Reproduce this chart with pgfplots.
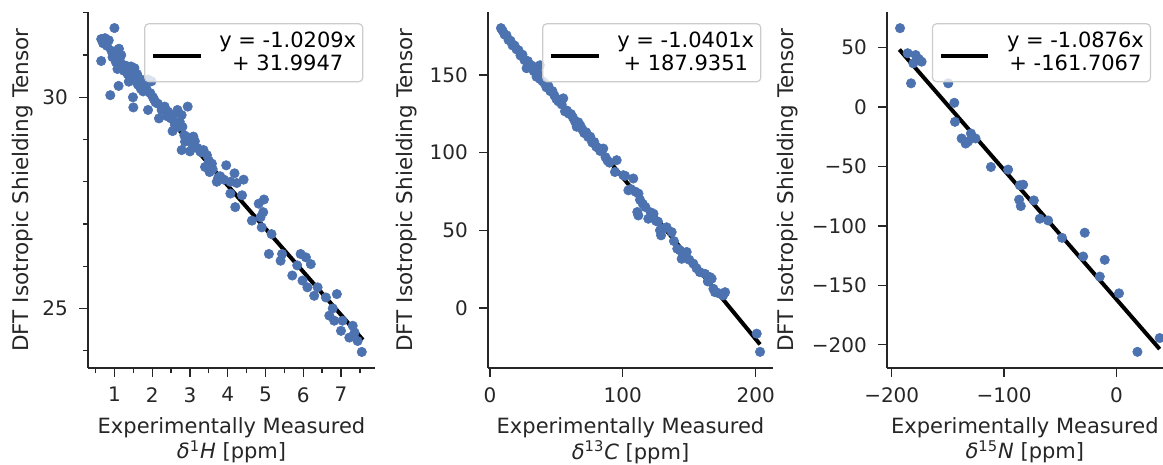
\documentclass[border=0pt]{standalone}
\usepackage{pgfplots}
\pgfplotsset{compat=1.18}
\usepackage{fontspec}
\setmainfont{DejaVu Sans}

\definecolor{dots}{HTML}{4C72B0}
\definecolor{spine}{HTML}{262626}

\pgfplotsset{
  panel/.style={
    scale only axis, height=178pt, anchor=south west,
    axis x line*=bottom, axis y line*=left,
    axis line style={spine, line width=0.65pt},
    every tick/.style={spine, line width=0.65pt},
    tick align=outside,
    major tick length=4.5pt, minor tick length=2.6pt,
    /pgf/number format/assume math mode=true,
    tick label style={font=\fontsize{10}{12}\selectfont, text=spine, inner sep=0pt},
    xticklabel style={anchor=north},
    yticklabel style={anchor=east},
    xticklabel shift=5pt, yticklabel shift=5.35pt,
    xlabel style={at={(axis description cs:0.5,0)}, anchor=base, yshift=-32.65pt,
      font=\fontsize{10.5}{11.7}\selectfont, text=spine},
    ylabel style={anchor=center, rotate=0, font=\fontsize{10.75}{12}\selectfont, text=spine},
    ylabel={DFT Isotropic Shielding Tensor},
    legend style={at={(1,1)}, anchor=north east, xshift=-5.8pt, yshift=-5.6pt,
      draw=black!20, line width=0.6pt, rounded corners=2pt, fill=white, fill opacity=0.8,
      text opacity=1, inner xsep=3.3pt, inner ysep=4.3pt, column sep=8.3pt,
      nodes={inner sep=0pt}, font=\fontsize{10.5}{10.85}\selectfont},
    legend image code/.code={
      \draw[line width=2pt] (0pt,-4pt) -- (23.7pt,-4pt);
      \path (0pt,-11.7pt) -- (0pt,-11.7pt);},
  },
  ylab/.style={ylabel style={at={([xshift=-#1]axis description cs:0,0.5)}}},
  pts/.style={only marks, mark=*, color=dots, mark size=2.35pt,
    mark options={line width=0.3pt, draw=dots, fill=dots}, forget plot},
  fit/.style={black, line width=2pt},
}

\begin{document}
\begin{tikzpicture}
\path[use as bounding box] (0,0) rectangle (581.5pt,232.5pt);

% 1H
\begin{axis}[panel, at={(44pt,48.5pt)}, width=143.5pt, ylab=32.9pt,
    xmin=0.3, xmax=7.9, ymin=23.59, ymax=32.02,
    xtick={1,...,7}, minor xtick={0.5,1.5,...,7.5},
    ytick={25,30}, minor ytick={24,26,27,28,29,31,32},
    xlabel={\begin{tabular}[t]{@{}c@{}}Experimentally Measured\\{\itshape δ}\textsuperscript{1}{\itshape H} [ppm]\end{tabular}}]
\addplot[pts] table {
x y
0.65 31.38
0.75 31.40
0.85 31.35
0.70 31.28
0.80 31.22
0.65 30.86
0.89 30.05
1.00 31.64
1.00 31.03
1.04 30.83
1.08 30.67
1.11 30.27
1.12 31.15
1.18 31.00
1.22 30.73
1.25 30.63
0.92 31.10
0.95 30.95
1.05 31.10
1.15 30.85
1.30 30.75
1.35 30.55
1.38 30.37
1.44 30.73
1.49 30.00
1.50 29.76
1.53 30.69
1.45 30.50
1.55 30.40
1.62 30.30
1.60 30.55
1.71 30.42
1.70 30.20
1.76 30.14
1.80 30.30
1.84 30.22
1.89 30.42
1.89 29.70
1.95 30.10
1.98 30.38
2.02 30.00
2.05 29.95
2.09 29.88
2.15 29.85
2.18 29.50
2.25 29.70
2.33 29.78
2.40 29.55
2.42 29.66
2.50 29.50
2.54 29.20
2.56 29.58
2.60 29.35
2.67 29.70
2.70 29.30
2.73 29.42
2.78 29.58
2.78 28.75
2.80 29.30
2.85 29.10
2.87 28.95
2.94 29.78
2.95 29.05
3.00 28.72
3.05 28.90
3.09 29.07
3.13 28.96
3.20 28.80
3.27 28.72
3.30 28.70
3.36 28.75
3.40 28.35
3.45 28.63
3.50 28.50
3.52 28.23
3.58 28.43
3.60 28.30
3.71 28.00
3.75 28.10
3.80 28.13
3.90 28.05
3.96 28.39
4.07 28.00
4.07 27.72
4.18 28.20
4.20 27.40
4.24 27.97
4.38 27.68
4.42 28.05
4.64 27.08
4.82 27.48
4.87 27.16
4.90 26.92
4.94 27.28
4.96 27.58
5.09 26.29
5.16 26.76
5.40 26.13
5.44 26.29
5.71 25.78
5.84 26.02
5.93 26.29
5.98 25.66
6.07 26.21
6.11 25.50
6.20 26.05
6.29 25.30
6.38 25.50
6.60 25.26
6.69 24.83
6.78 25.00
6.82 24.71
6.89 25.34
7.00 24.47
7.04 24.71
7.22 24.31
7.31 24.59
7.36 24.43
7.44 24.23
7.55 23.97
};
\addplot[fit] coordinates {(0.62,31.3617) (7.58,24.2563)};
\addlegendentry{\begin{tabular}{@{}c@{}}y = -1.0209x\\+ 31.9947\end{tabular}}
\end{axis}

% 13C
\begin{axis}[panel, at={(244pt,48.5pt)}, width=142.5pt, ylab=40.65pt,
    xmin=-1.45, xmax=213.05, ymin=-38.7, ymax=190.5,
    xtick={0,100,200}, ytick={0,50,100,150},
    xlabel={\begin{tabular}[t]{@{}c@{}}Experimentally Measured\\{\itshape δ}\textsuperscript{13}{\itshape C} [ppm]\end{tabular}}]
\addplot[pts] table {
x y
8.3 180.1
9.5 178.5
11 176.0
12.5 175.5
14 172.5
15.5 172.0
17 169.0
18.5 168.9
20 166.5
21.5 165.9
23 162.5
24.5 163.0
26 159.5
27.6 154.3
28.5 158.9
30 155.8
31.5 156.0
33 152.4
34.5 152.8
35.1 148.8
36 151.0
37.5 147.5
37.7 156.2
39.5 146.0
41 144.8
42.5 142.0
44 142.9
45.5 139.5
47 139.6
48.5 136.8
50 134.5
51.5 133.0
53 133.5
54 131.0
55.2 134.9
56.5 126.5
58 127.0
59.5 125.0
61 124.8
62.5 122.5
64 120.0
65.3 116.6
66.5 119.5
68 117.5
69.5 115.0
71 112.5
72.5 113.0
74 110.0
75.5 110.2
77 106.5
78.5 106.8
80 103.8
81.5 103.0
83 101.0
85.3 102.6
87 97.0
88.5 94.8
90 93.5
94.1 87.5
95.4 95.1
100.4 85.4
101.7 85.0
104.2 75.7
106 76.5
107.9 83.3
109.5 74.8
110.9 61.7
111.7 59.5
111.8 73.6
113 69.5
115 67.0
117 64.9
119.2 57.4
121 61.5
123.1 60.6
125 56.0
126.5 55.5
128 49.9
128.8 46.7
130.5 51.0
133 51.9
136.8 48.8
138.5 43.0
141 38.1
143.1 37.0
144.3 31.6
146 35.0
148.1 36.0
150 31.0
153.1 28.5
155.5 25.5
158 23.0
161.9 21.9
164 17.0
165.7 19.8
166.9 18.8
168.2 12.3
169.4 10.1
172 9.5
175.5 8.0
177 10.1
200.8 -16.6
203.3 -28.3
};
\addplot[fit] coordinates {(8.8,178.782) (203.3,-23.517)};
\addlegendentry{\begin{tabular}{@{}c@{}}y = -1.0401x\\+ 187.9351\end{tabular}}
\end{axis}

% 15N
\begin{axis}[panel, at={(443.5pt,48.5pt)}, width=137.85pt, ylab=49.9pt,
    xmin=-204.2, xmax=41.2, ymin=-219.5, ymax=80,
    xtick={-200,-100,0}, xticklabels={−200,−100,0},
    ytick={-200,-150,-100,-50,0,50}, yticklabels={−200,−150,−100,−50,0,50},
    xlabel={\begin{tabular}[t]{@{}c@{}}Experimentally Measured\\{\itshape δ}\textsuperscript{15}{\itshape N} [ppm]\end{tabular}}]
\addplot[pts] table {
x y
-192.6 66.4
-185.8 45.3
-178.7 43.8
-182.8 20.0
-173.4 38.2
-180.8 36.8
-176.0 40.5
-149.7 20.0
-144.3 3.6
-143.7 -12.4
-137.8 -26.4
-134.2 -30.7
-132.0 -29.0
-129.5 -22.2
-125.4 -26.4
-111.7 -50.4
-96.4 -52.6
-86.0 -65.8
-83.0 -65.3
-86.6 -77.9
-85.1 -83.3
-73.5 -78.5
-68.2 -93.9
-60.8 -95.4
-48.4 -110.0
-28.2 -105.7
-29.6 -125.7
-14.8 -142.6
-10.4 -128.5
2.3 -156.7
18.7 -205.9
38.5 -194.3
};
\addplot[fit] coordinates {(-193.2,48.4176) (38.5,-203.579)};
\addlegendentry{\begin{tabular}{@{}c@{}}y = -1.0876x\\+ -161.7067\end{tabular}}
\end{axis}
\end{tikzpicture}
\end{document}
